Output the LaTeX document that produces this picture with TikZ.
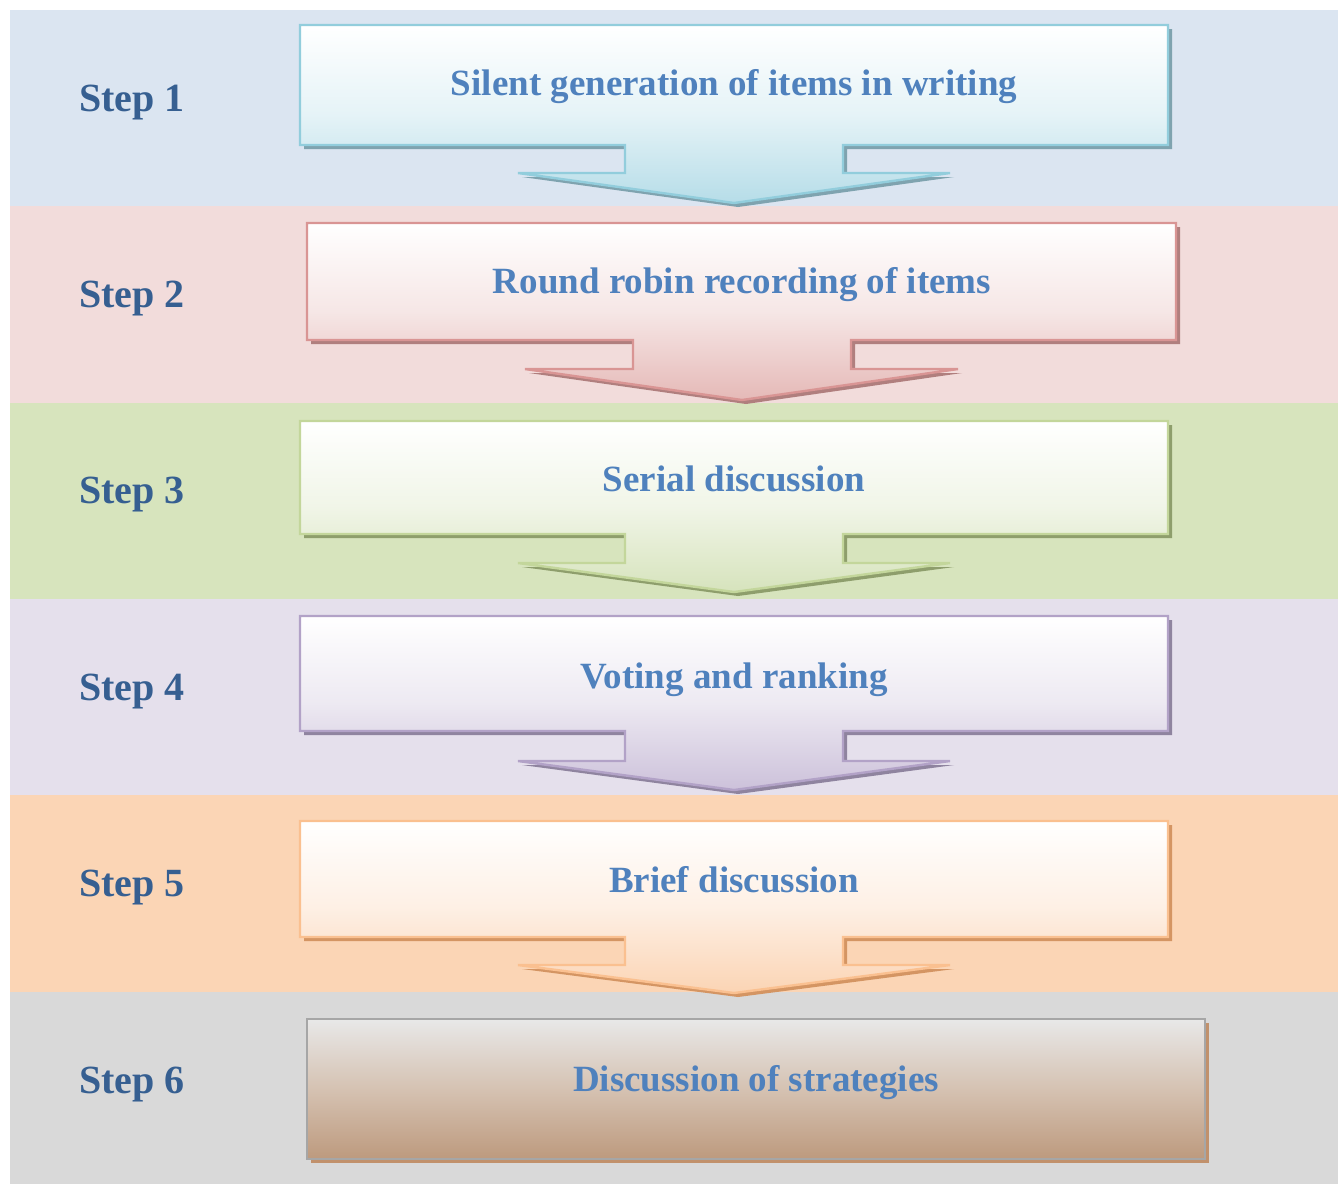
\documentclass[tikz,border=0pt]{standalone}
\usepackage{fontspec}
\setmainfont{Liberation Serif}
\usepackage{xcolor}

\definecolor{bandA}{HTML}{DBE5F1}
\definecolor{bandB}{HTML}{F2DCDB}
\definecolor{bandC}{HTML}{D7E4BD}
\definecolor{bandD}{HTML}{E5E0EC}
\definecolor{bandE}{HTML}{FBD5B5}
\definecolor{bandF}{HTML}{D9D9D9}
\definecolor{lineA}{HTML}{92CDDC}
\definecolor{lineB}{HTML}{D99594}
\definecolor{lineC}{HTML}{C3D69B}
\definecolor{lineD}{HTML}{B2A2C7}
\definecolor{lineE}{HTML}{FAC090}
\definecolor{lineF}{HTML}{A6A6A6}
\definecolor{shadeA}{HTML}{B6DDE8}
\definecolor{shadeB}{HTML}{E5B9B7}
\definecolor{shadeC}{HTML}{D6E3BC}
\definecolor{shadeD}{HTML}{CCC1DA}
\definecolor{shadeE}{HTML}{FBD4B4}
\definecolor{shadeF}{HTML}{BD9A7E}
\definecolor{midF}{HTML}{D5C2B2}
\definecolor{darkA}{HTML}{7FA3AF}
\definecolor{darkB}{HTML}{B07F7E}
\definecolor{darkC}{HTML}{8E9E6C}
\definecolor{darkD}{HTML}{8F849F}
\definecolor{darkE}{HTML}{D49563}
\definecolor{darkF}{HTML}{C1916C}
\definecolor{steptext}{HTML}{365F91}
\definecolor{itemtext}{HTML}{4F81BD}

\begin{document}
\begin{tikzpicture}[x=0.5pt, y=-0.5pt,
	steplabel/.style={anchor=base west, inner sep=0pt, text=steptext,
		font=\fontsize{20}{24}\selectfont\bfseries},
	itemlabel/.style={anchor=base, inner sep=0pt, text=itemtext,
		font=\fontsize{18.5}{22}\selectfont\bfseries},
	arrowbox/.style n args={3}{shade, top color=white, bottom color=#1,
		middle color=#1!35!white,
		draw=#2, line width=1.2pt, line join=miter,
		preaction={fill=#3, transform canvas={xshift=2pt, yshift=-2pt}}}]
			
			\useasboundingbox (0,0) rectangle (1338,1184);
			
			% bands
			\fill[bandA] (10,10) rectangle (1338,206);
			\fill[bandB] (10,206) rectangle (1338,403);
			\fill[bandC] (10,403) rectangle (1338,599);
			\fill[bandD] (10,599) rectangle (1338,795);
			\fill[bandE] (10,795) rectangle (1338,992);
			\fill[bandF] (10,992) rectangle (1338,1184);
			
			% boxes with arrows
			\path[arrowbox={shadeA}{lineA}{darkA}] (300,25) -- (1168,25) -- (1168,145)
			-- (843,145) -- (843,173) -- (950,173) -- (734,203) -- (518,173)
			-- (625,173) -- (625,145) -- (300,145) -- cycle;
			
			\path[arrowbox={shadeB}{lineB}{darkB}] (307,223) -- (1176,223) -- (1176,340)
			-- (851,340) -- (851,369) -- (958,369) -- (742,400) -- (525,369)
			-- (633,369) -- (633,340) -- (307,340) -- cycle;
			
			\path[arrowbox={shadeC}{lineC}{darkC}] (300,421) -- (1168,421) -- (1168,534)
			-- (843,534) -- (843,563) -- (950,563) -- (734,592) -- (518,563)
			-- (625,563) -- (625,534) -- (300,534) -- cycle;
			
			\path[arrowbox={shadeD}{lineD}{darkD}] (300,616) -- (1168,616) -- (1168,731)
			-- (843,731) -- (843,761) -- (950,761) -- (734,790) -- (518,761)
			-- (625,761) -- (625,731) -- (300,731) -- cycle;
			
			\path[arrowbox={shadeE}{lineE}{darkE}] (300,821) -- (1168,821) -- (1168,937)
			-- (843,937) -- (843,965) -- (950,965) -- (734,993) -- (518,965)
			-- (625,965) -- (625,937) -- (300,937) -- cycle;
			
			\path[arrowbox={shadeF}{lineF}{darkF}, top color=bandF!60!white,
			middle color=midF]
			(307,1019) rectangle (1205,1159);
			
			% step labels
			\node[steplabel] (step1) at (79,111) {Step 1};
			\node[steplabel] (step2) at (79,307) {Step 2};
			\node[steplabel] (step3) at (79,503) {Step 3};
			\node[steplabel] (step4) at (79,700) {Step 4};
			\node[steplabel] (step5) at (79,896) {Step 5};
			\node[steplabel] (step6) at (79,1093) {Step 6};
			
			% box texts
			\node[itemlabel] (item1) at (734,95) {Silent generation of items in writing};
			\node[itemlabel] (item2) at (742,293) {Round robin recording of items};
			\node[itemlabel] (item3) at (734,491) {Serial discussion};
			\node[itemlabel] (item4) at (734,688) {Voting and ranking};
			\node[itemlabel] (item5) at (734,892) {Brief discussion};
			\node[itemlabel] (item6) at (756,1091) {Discussion of strategies};
			
		\end{tikzpicture}
\end{document}
